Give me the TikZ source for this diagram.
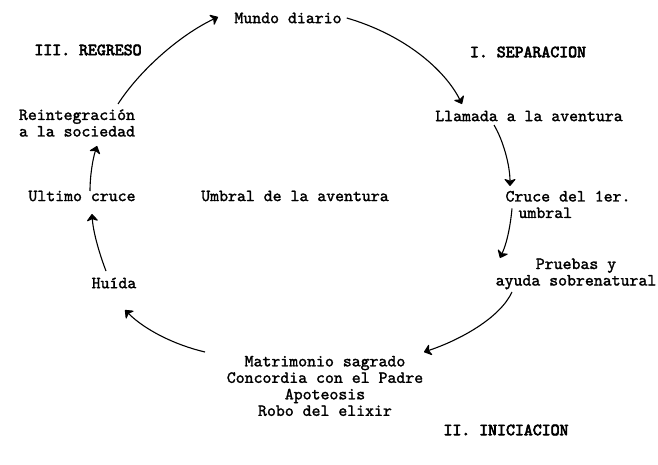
\documentclass[tikz,border=0pt]{standalone}
\usepackage{fontspec}
\newfontfamily\bodyfont{lmmono10-regular.otf}[AutoFakeBold=1.6]
\newfontfamily\hdrfont{lmmono10-regular.otf}[AutoFakeBold=3.6]
\usetikzlibrary{arrows.meta}
\begin{document}
\begin{tikzpicture}[x=1pt,y=-1pt,
  lbl/.style={inner sep=0pt, font=\bodyfont\bfseries\fontsize{17}{16.5}\selectfont},
  hdr/.style={inner sep=0pt, font=\hdrfont\bfseries\fontsize{17}{16.5}\selectfont},
  flow/.style={line width=1.1pt, -{Stealth[length=8pt,width=13pt,inset=2.5pt,round]}}]
\useasboundingbox[fill=white] (0,0) rectangle (658,465);

\node[lbl] (md) at (288,18) {Mundo diario};
\node[hdr] (reg) at (88,50) {III. REGRESO};
\node[hdr] (sep) at (528,52) {I. SEPARACION};
\node[lbl] (ll) at (529,116) {Llamada a la aventura};
\node[lbl, align=left] (rs) at (77,123) {Reintegración\\a la sociedad};
\node[lbl] (uc) at (82,196) {Ultimo cruce};
\node[lbl] (ua) at (295,196) {Umbral de la aventura};
\node[lbl, align=left] (cr) at (568,204.5) {Cruce del 1er.\\\rule{13pt}{0pt}umbral};
\node[lbl, align=center] (pr) at (576,274) {Pruebas y\\ayuda sobrenatural};
\node[lbl] (hu) at (114,283) {Huída};
\node[lbl, align=center] (ma) at (325,386) {Matrimonio sagrado\\Concordia con el Padre\\Apoteosis\\Robo del elixir};
\node[hdr] (ini) at (506,430) {II. INICIACION};

\draw[flow] ([xshift=5]md.east) .. controls (405,35) and (445,70) .. ([shift={(-67,-12)}]ll.center);
\draw[flow] ([shift={(-35,9)}]ll.center) .. controls (503,140) and (510,165) .. ([shift={(-58,-18.5)}]cr.center);
\draw[flow] ([shift={(-56,4)}]cr.center) .. controls (510,230) and (506,245) .. ([shift={(-76,-16)}]pr.center);
\draw[flow] ([shift={(-64,18)}]pr.center) .. controls (500,318) and (460,340) .. ([shift={(99,-34)}]ma.center);
\draw[flow] ([shift={(-120,-34)}]ma.center) .. controls (175,345) and (145,330) .. ([shift={(11,27)}]hu.center);
\draw[flow] ([shift={(-8,-12)}]hu.center) .. controls (98,250) and (93,230) .. ([shift={(10,18)}]uc.center);
\draw[flow] ([shift={(8,-5)}]uc.center) .. controls (90,175) and (93,158) .. ([shift={(20,23)}]rs.center);
\draw[flow] ([shift={(41,-19)}]rs.center) .. controls (140,70) and (180,35) .. ([shift={(-70,-1)}]md.center);
\end{tikzpicture}
\end{document}
